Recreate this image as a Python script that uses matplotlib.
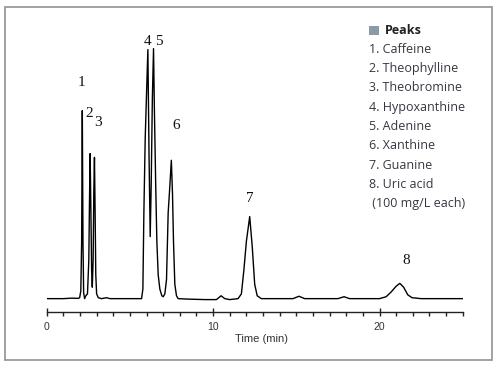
import matplotlib
matplotlib.use("Agg")
import matplotlib.pyplot as plt
from matplotlib.patches import Rectangle
from matplotlib.ticker import MultipleLocator

# ---- data ----
time_min = [0.0, 1.0, 1.5, 1.9, 1.98, 2.05, 2.10, 2.14, 2.18, 2.22, 2.28, 2.35,
            2.45, 2.53, 2.57, 2.61, 2.65, 2.70, 2.74,
            2.79, 2.83, 2.87, 2.91, 2.95, 3.0, 3.1, 3.3, 3.6, 3.8, 4.5, 5.2,
            5.70, 5.78, 5.84, 5.92, 6.00, 6.08, 6.15, 6.22, 6.28, 6.35, 6.42,
            6.47, 6.55, 6.62, 6.70, 6.80, 6.92, 7.00, 7.10, 7.20, 7.30, 7.40,
            7.49, 7.56, 7.62, 7.70, 7.80, 7.90,
            8.5, 9.5, 10.2, 10.48, 10.7, 11.0, 11.5, 11.7, 11.85, 12.0, 12.2,
            12.35, 12.5, 12.65, 12.9, 14.0, 14.8, 15.16, 15.5, 17.5, 17.87,
            18.2, 20.0, 20.4, 20.7, 21.0, 21.22, 21.45, 21.7, 21.95, 22.5, 25.0]
signal = [0, 0, 0.5, 0.3, 1, 8, 60, 197, 60, 6, 0, 3,
          5, 40, 100, 152, 100, 30, 12,
          40, 110, 148, 90, 25, 5, 1, 0, 1, 0, 0, 0,
          0, 10, 90, 168, 215, 261, 150, 65, 120, 210, 262,
          200, 120, 60, 25, 10, 3, 2, 5, 20, 90, 118,
          145, 110, 60, 15, 3, 0,
          -0.5, -1, -1, 3, 0, -1, 0, 5, 30, 60, 86,
          55, 15, 3, 0, 0, 0, 2.5, 0, 0, 2,
          0, 0, 2, 7, 13, 16, 12, 4, 1, 0, 0]

peak_labels = ["1", "2", "3", "4", "5", "6", "7", "8"]
label_x = [2.07, 2.56, 3.06, 6.08, 6.77, 7.79, 12.2, 21.63]
label_y = [226, 194, 185, 269, 269, 181, 105, 40]

legend_title = "Peaks"
legend_items = ["1. Caffeine", "2. Theophylline", "3. Theobromine",
                "4. Hypoxanthine", "5. Adenine", "6. Xanthine",
                "7. Guanine", "8. Uric acid", " (100 mg/L each)"]
x_label = "Time (min)"

# ---- figure ----
W, H = 500, 368
fig = plt.figure(figsize=(W / 100, H / 100), dpi=100)

def fx(px):
    return px / W

def fy(py):
    return 1 - py / H

# outer frame
fig.patches.append(Rectangle((fx(5), fy(360)), fx(487), 353 / H,
                             transform=fig.transFigure, fill=False,
                             edgecolor="#9a9a9a", linewidth=1.3))

ax_left, ax_right = 46.7, 462.7
ax_bottom, ax_top = 312.0, 20.0
ax = fig.add_axes([fx(ax_left), fy(ax_bottom), (ax_right - ax_left) / W,
                   (ax_bottom - ax_top) / H])
ax.set_xlim(0, 25)
ax.set_ylim(-14, 292)
ax.patch.set_alpha(0)
for s in ["top", "right", "left"]:
    ax.spines[s].set_visible(False)
ax.spines["bottom"].set_color("#222222")
ax.spines["bottom"].set_linewidth(1.0)
ax.set_yticks([])
ax.xaxis.set_major_locator(MultipleLocator(10))
ax.xaxis.set_minor_locator(MultipleLocator(1))
ax.tick_params(axis="x", which="major", direction="inout", length=6,
               width=1.0, color="#222222", labelsize=7.5, pad=4.5,
               labelcolor="#333333")
ax.tick_params(axis="x", which="minor", direction="out", length=3,
               width=1.0, color="#222222")
for lab in ax.get_xticklabels():
    lab.set_fontfamily("Liberation Sans")

ax.plot(time_min, signal, color="black", linewidth=1.0)

for t, x, y in zip(peak_labels, label_x, label_y):
    ax.text(x, y, t, ha="center", va="center", fontsize=11,
            family="Liberation Serif", color="#111111")

fig.text(fx(261.5), fy(339), x_label, ha="center", va="center", fontsize=8,
         family="Liberation Sans", color="#333333")

# legend block
fig.patches.append(Rectangle((fx(369), fy(35)), fx(10), 9 / H,
                             transform=fig.transFigure, facecolor="#8b9aa3",
                             edgecolor="none"))
fig.text(fx(385), fy(30.7), legend_title, ha="left", va="center", fontsize=9,
         family="Open Sans", weight="bold", color="#222222")
for i, item in enumerate(legend_items):
    fig.text(fx(369), fy(49.3 + 19.3 * i), item, ha="left", va="center",
             fontsize=9, family="Open Sans", color="#3a3540")

fig.savefig("out.png", dpi=100)
